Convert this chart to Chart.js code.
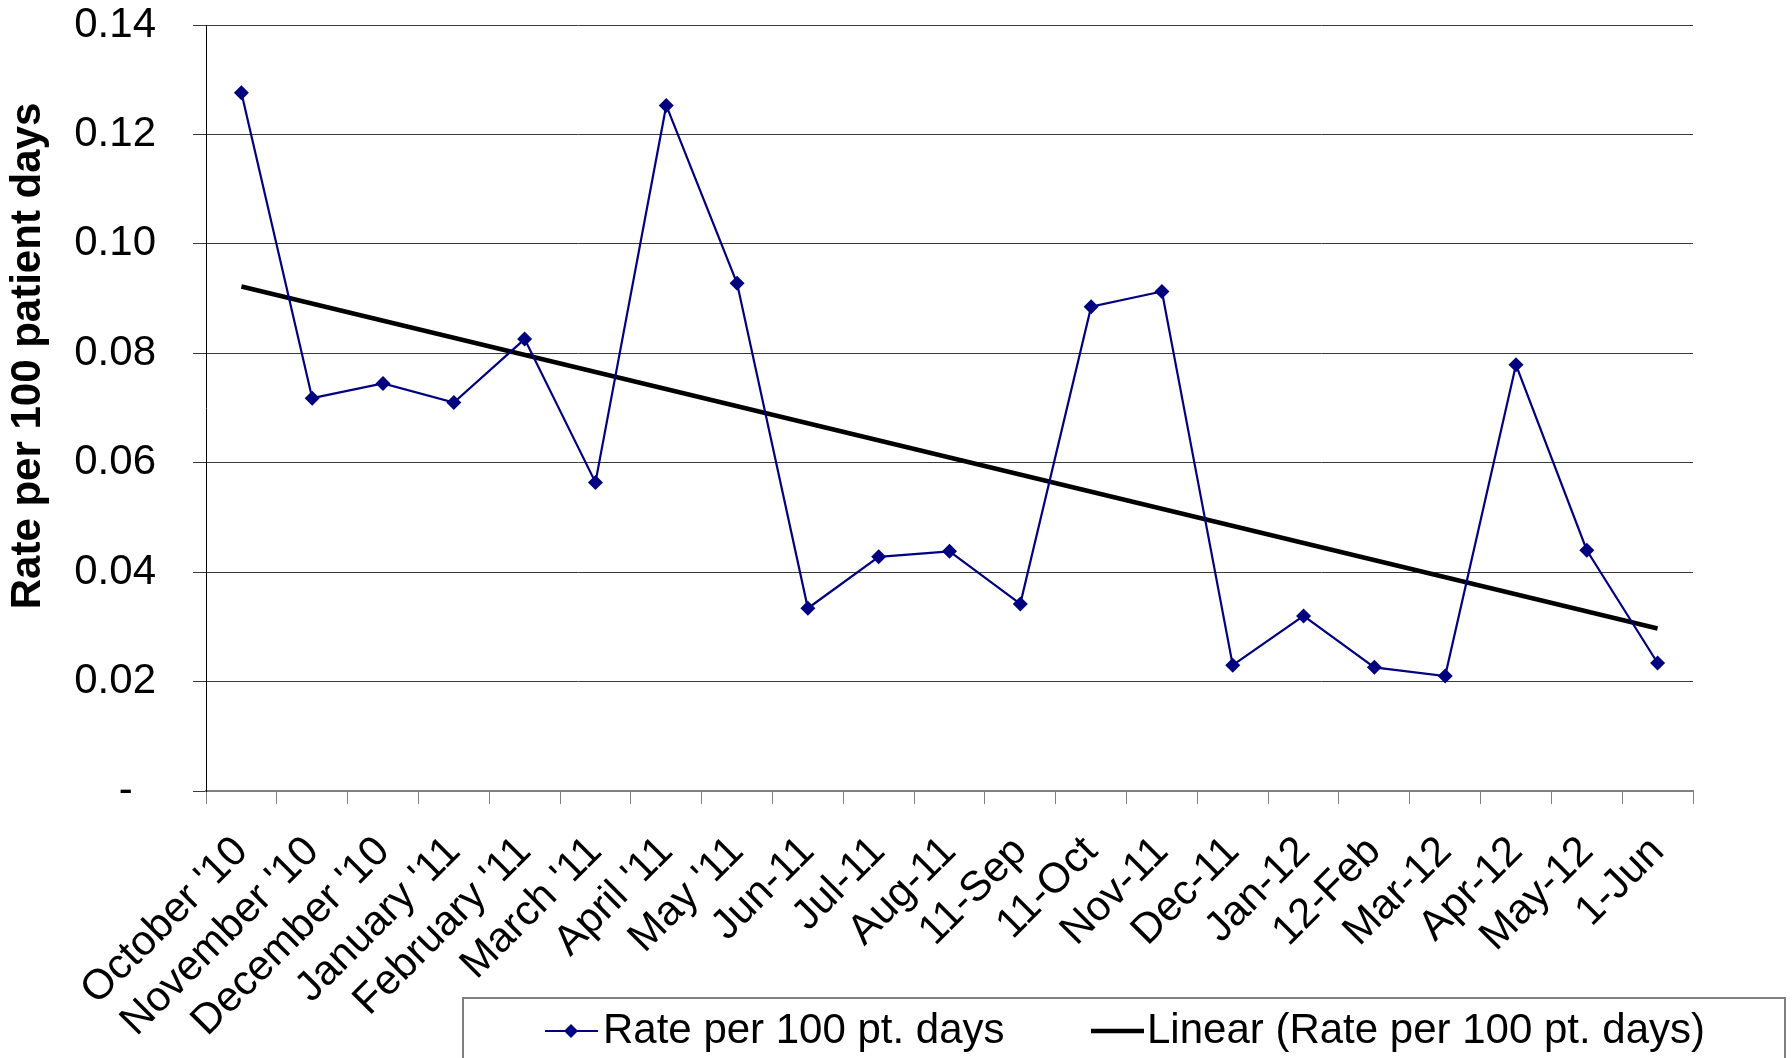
<!DOCTYPE html>
<html>
<head>
<meta charset="utf-8">
<script src="https://cdn.jsdelivr.net/npm/chart.js@4/dist/chart.umd.min.js"></script>
<style>
  html, body { margin: 0; padding: 0; background: #fff; }
  canvas { display: block; }
</style>
</head>
<body>
<canvas id="rateChart" width="1792" height="1058"></canvas>
<script>
// values
const months = [
    "October '10", "November '10", "December '10", "January '11", "February '11",
    "March '11", "April '11", "May '11", "Jun-11", "Jul-11", "Aug-11", "11-Sep",
    "11-Oct", "Nov-11", "Dec-11", "Jan-12", "12-Feb", "Mar-12", "Apr-12", "May-12", "1-Jun"
];
const ratePer100 = [
    0.1276, 0.0718, 0.0745, 0.0710, 0.0826, 0.0564, 0.1253, 0.0928, 0.0334, 0.0428,
    0.0438, 0.0342, 0.0885, 0.0913, 0.0230, 0.0320, 0.0226, 0.0210, 0.0779, 0.0440, 0.0234
];
// linear trend line ends, as drawn in the reference
const trendStart = 0.0922;
const trendEnd = 0.0297;
const yTicks = [0, 0.02, 0.04, 0.06, 0.08, 0.10, 0.12, 0.14];
const yTitle = 'Rate per 100 patient days';

const FONT = "'Liberation Sans', Arial, sans-serif";

const trendData = months.map((_, i) =>
    i === 0 ? trendStart : (i === months.length - 1 ? trendEnd : null));

// y title and the boxed legend at the bottom
const extrasPlugin = {
    id: 'extras',
    afterDraw(chart) {
        const ctx = chart.ctx;
        ctx.save();

        // axis title
        ctx.translate(28, 356);
        ctx.rotate(-Math.PI / 2);
        ctx.font = 'bold 42px ' + FONT;
        ctx.fillStyle = '#000';
        ctx.textAlign = 'center';
        ctx.textBaseline = 'middle';
        ctx.fillText(yTitle, 0, 0);
        ctx.restore();

        // legend box
        ctx.save();
        ctx.strokeStyle = '#808080';
        ctx.lineWidth = 2;
        ctx.strokeRect(463, 998, 1322, 120);

        const ly = 1031;
        ctx.font = '42px ' + FONT;
        ctx.fillStyle = '#000';
        ctx.textAlign = 'left';
        ctx.textBaseline = 'middle';

        const ds = chart.data.datasets;
        // first entry: line with diamond
        ctx.strokeStyle = ds[0].borderColor;
        ctx.lineWidth = 2.2;
        ctx.beginPath();
        ctx.moveTo(545, ly);
        ctx.lineTo(598, ly);
        ctx.stroke();
        ctx.fillStyle = ds[0].borderColor;
        ctx.beginPath();
        ctx.moveTo(571 - 7, ly);
        ctx.lineTo(571, ly - 7);
        ctx.lineTo(571 + 7, ly);
        ctx.lineTo(571, ly + 7);
        ctx.closePath();
        ctx.fill();
        ctx.fillStyle = '#000';
        ctx.fillText(ds[0].label, 603, ly);

        // second entry: thick black line
        ctx.strokeStyle = ds[1].borderColor;
        ctx.lineWidth = 4.5;
        ctx.beginPath();
        ctx.moveTo(1091, ly);
        ctx.lineTo(1144, ly);
        ctx.stroke();
        ctx.fillText(ds[1].label, 1147, ly);
        ctx.restore();
    }
};

new Chart(document.getElementById('rateChart'), {
    type: 'line',
    data: {
        labels: months,
        datasets: [
            {
                label: 'Rate per 100 pt. days',
                data: ratePer100,
                borderColor: '#000080',
                backgroundColor: '#000080',
                borderWidth: 2.2,
                tension: 0,
                pointStyle: 'rectRot',
                pointRadius: 7.5,
                pointBorderWidth: 0,
                pointBackgroundColor: '#000080'
            },
            {
                label: 'Linear (Rate per 100 pt. days)',
                data: trendData,
                borderColor: '#000000',
                borderWidth: 4.5,
                pointRadius: 0,
                spanGaps: true
            }
        ]
    },
    options: {
        responsive: false,
        animation: false,
        layout: { padding: { top: 25, right: 99, left: 0, bottom: 0 } },
        plugins: {
            legend: { display: false },
            tooltip: { enabled: false }
        },
        scales: {
            x: {
                offset: true,
                afterFit: (scale) => { scale.height = 267; },
                grid: {
                    offset: true,
                    drawOnChartArea: false,
                    drawTicks: true,
                    tickLength: 13,
                    color: '#808080',
                    lineWidth: 1
                },
                border: { display: true, color: '#808080', width: 2 },
                ticks: {
                    autoSkip: false,
                    minRotation: 45,
                    maxRotation: 45,
                    padding: 23,
                    color: '#000',
                    font: { family: FONT, size: 42 }
                }
            },
            y: {
                min: 0,
                max: 0.14,
                afterFit: (scale) => {
                    scale.width = 206;
                    scale.paddingTop = 25;
                    scale.paddingBottom = 25;
                },
                afterBuildTicks: (scale) => { scale.ticks = yTicks.map(v => ({ value: v })); },
                grid: {
                    color: '#3a3a3a',
                    lineWidth: 1,
                    drawTicks: true,
                    tickLength: 13
                },
                border: { display: true, color: '#000', width: 1 },
                ticks: {
                    padding: 37,
                    color: '#000',
                    font: { family: FONT, size: 42 },
                    callback: (v) => v === 0 ? '-  ' : v.toFixed(2)
                }
            }
        }
    },
    plugins: [extrasPlugin]
});
</script>
</body>
</html>
